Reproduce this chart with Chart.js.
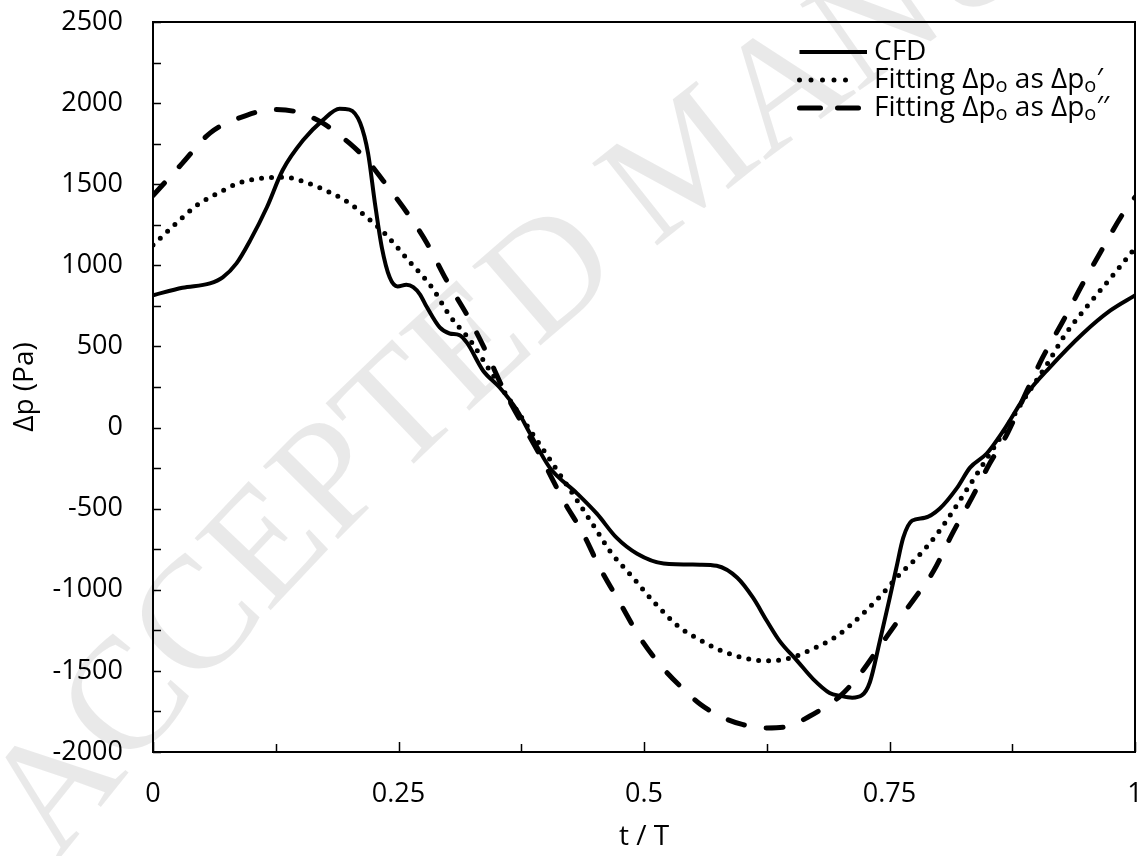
<!DOCTYPE html>
<html>
<head>
<meta charset="utf-8">
<script src="https://cdn.jsdelivr.net/npm/chart.js@4.4.1/dist/chart.umd.min.js"></script>
<style>
  html, body { margin: 0; background: #fff; }
  canvas { display: block; }
</style>
</head>
<body>
<canvas id="pressureChart" width="1146" height="856"></canvas>
<script>
// t/T and pressure difference (Pa)
const cfdT = [0, 0.03, 0.058, 0.071, 0.085, 0.099, 0.116, 0.132, 0.153, 0.173, 0.19, 0.2, 0.211, 0.219, 0.226, 0.233, 0.241, 0.249, 0.258, 0.265, 0.272, 0.279, 0.292, 0.302, 0.312, 0.32, 0.336, 0.353, 0.371, 0.384, 0.404, 0.432, 0.452, 0.472, 0.493, 0.52, 0.557, 0.574, 0.595, 0.611, 0.625, 0.638, 0.656, 0.672, 0.689, 0.7, 0.712, 0.722, 0.73, 0.74, 0.75, 0.757, 0.764, 0.773, 0.786, 0.801, 0.819, 0.832, 0.849, 0.866, 0.89, 0.913, 0.947, 0.975, 1];
const cfdP = [815, 862, 889, 926, 1012, 1154, 1358, 1586, 1772, 1895, 1965, 1960, 1877, 1691, 1383, 1111, 926, 870, 880, 866, 820, 741, 617, 580, 570, 520, 352, 247, 105, -37, -247, -407, -531, -679, -778, -838, -845, -852, -926, -1049, -1191, -1315, -1438, -1549, -1636, -1654, -1665, -1650, -1570, -1320, -1056, -864, -679, -574, -556, -500, -370, -247, -160, -19, 210, 370, 580, 722, 815];

const fit1T = [0, 0.027, 0.046, 0.066, 0.087, 0.111, 0.134, 0.158, 0.18, 0.2, 0.219, 0.236, 0.26, 0.284, 0.302, 0.323, 0.343, 0.37, 0.4, 0.432, 0.452, 0.465, 0.489, 0.509, 0.537, 0.557, 0.579, 0.601, 0.625, 0.649, 0.672, 0.692, 0.707, 0.738, 0.761, 0.778, 0.798, 0.814, 0.829, 0.845, 0.863, 0.887, 0.911, 0.927, 0.952, 0.975, 1];
const fit1P = [1125, 1278, 1376, 1444, 1506, 1537, 1543, 1506, 1450, 1383, 1290, 1197, 1031, 864, 691, 537, 352, 110, -160, -450, -636, -759, -926, -1068, -1235, -1309, -1376, -1420, -1438, -1420, -1364, -1302, -1235, -1056, -901, -802, -660, -520, -380, -230, -60, 175, 395, 556, 753, 920, 1105];

const fit2T = [0, 0.03, 0.058, 0.096, 0.122, 0.147, 0.173, 0.2, 0.218, 0.234, 0.262, 0.279, 0.299, 0.323, 0.34, 0.356, 0.397, 0.418, 0.438, 0.455, 0.476, 0.496, 0.519, 0.542, 0.557, 0.577, 0.6, 0.625, 0.645, 0.669, 0.689, 0.7, 0.72, 0.74, 0.76, 0.776, 0.795, 0.814, 0.834, 0.852, 0.87, 0.89, 0.906, 0.927, 0.947, 0.966, 0.988, 1];
const fit2P = [1430, 1630, 1815, 1926, 1960, 1945, 1876, 1753, 1648, 1525, 1296, 1136, 907, 660, 457, 247, -204, -450, -654, -864, -1086, -1296, -1481, -1623, -1704, -1778, -1830, -1852, -1845, -1778, -1704, -1654, -1520, -1350, -1180, -1049, -883, -654, -432, -222, -37, 228, 432, 660, 889, 1093, 1321, 1420];

const xMin = 0, xMax = 1, xStep = 0.125, xLabelStep = 0.25;
const yMin = -2000, yMax = 2500, yStep = 250, yLabelStep = 500;

const FONT = "'Open Sans', 'Noto Sans', sans-serif";
const watermark = 'ACCEPTED MANUSCRIPT';

function toPoints(ts, ps) {
    return ts.map((t, i) => ({ x: t, y: ps[i] }));
}

function isMultiple(v, step) {
    const r = v / step;
    return Math.abs(r - Math.round(r)) < 1e-6;
}

// legend text parts: [text, isSubscript]
const legendItems = [
    { parts: [['CFD', false]], lineEnd: 867, y: 52, dash: [] },
    { parts: [['Fitting Δp', false], ['o', true], [' as Δp', false], ['o', true], ['′', false]], lineEnd: 856, y: 80, dash: [0, 11.5] },
    { parts: [['Fitting Δp', false], ['o', true], [' as Δp', false], ['o', true], ['′′', false]], lineEnd: 860, y: 108, dash: [21, 17] }
];

// faint journal watermark laid along an arc, under the plot
const watermarkPlugin = {
    id: 'watermark',
    beforeDatasetsDraw(chart) {
        const { ctx } = chart;
        const cx = 3107, cy = 3233, R = 3905;
        ctx.save();
        ctx.fillStyle = 'rgba(0,0,0,0.085)';
        ctx.font = "160px 'Liberation Serif', 'DejaVu Serif', serif";
        ctx.textAlign = 'center';
        ctx.textBaseline = 'middle';
        let s = -ctx.measureText('A').width / 2;
        const th0 = Math.atan2(790 - cy, 60 - cx);
        for (const ch of watermark) {
            const w = ctx.measureText(ch).width;
            const th = th0 + (s + w / 2) / R;
            ctx.save();
            ctx.translate(cx + R * Math.cos(th), cy + R * Math.sin(th));
            ctx.rotate(th + Math.PI / 2);
            ctx.fillText(ch, 0, 0);
            ctx.restore();
            s += w;
        }
        ctx.restore();
    }
};

const framePlugin = {
    id: 'frame',
    afterDatasetsDraw(chart) {
        const { ctx, chartArea: a, scales } = chart;
        ctx.save();
        ctx.strokeStyle = '#000';
        ctx.lineWidth = 2;
        ctx.setLineDash([]);
        ctx.strokeRect(a.left, a.top, a.right - a.left, a.bottom - a.top);

        // inward tick marks
        ctx.lineWidth = 1.5;
        ctx.beginPath();
        scales.x.ticks.forEach(t => {
            const px = Math.round(scales.x.getPixelForValue(t.value)) + 0.5;
            const len = isMultiple(t.value, xLabelStep) ? 10 : 8;
            ctx.moveTo(px, a.bottom);
            ctx.lineTo(px, a.bottom - len);
        });
        scales.y.ticks.forEach(t => {
            const py = Math.round(scales.y.getPixelForValue(t.value)) + 0.5;
            ctx.moveTo(a.left, py);
            ctx.lineTo(a.left + 8, py);
        });
        ctx.stroke();
        ctx.restore();
    }
};

const legendPlugin = {
    id: 'sideLegend',
    afterDraw(chart) {
        const { ctx } = chart;
        ctx.save();
        legendItems.forEach((item, i) => {
            const ds = chart.data.datasets[i];
            ctx.strokeStyle = ds.borderColor;
            ctx.lineWidth = ds.borderWidth;
            ctx.lineCap = ds.borderCapStyle;
            ctx.setLineDash(item.dash);
            ctx.beginPath();
            ctx.moveTo(799.5, item.y);
            ctx.lineTo(item.lineEnd, item.y);
            ctx.stroke();

            ctx.fillStyle = '#000';
            ctx.textBaseline = 'middle';
            ctx.textAlign = 'left';
            let x = 874;
            item.parts.forEach(([txt, sub]) => {
                ctx.font = (sub ? '20px ' : '28px ') + FONT;
                ctx.fillText(txt, x, item.y + (sub ? 6 : 0));
                x += ctx.measureText(txt).width;
            });
        });
        ctx.restore();
    }
};

function noPad(s) {
    s.paddingTop = 0;
    s.paddingBottom = 0;
    s.paddingLeft = 0;
    s.paddingRight = 0;
}

new Chart(document.getElementById('pressureChart'), {
    type: 'line',
    data: {
        datasets: [{
            label: 'CFD',
            data: toPoints(cfdT, cfdP),
            borderColor: '#000',
            borderWidth: 4,
            borderCapStyle: 'butt',
            cubicInterpolationMode: 'monotone',
            pointRadius: 0,
            fill: false
        }, {
            label: 'Fitting Δpo as Δpo′',
            data: toPoints(fit1T, fit1P),
            borderColor: '#000',
            borderWidth: 5,
            borderDash: [0, 10],
            borderCapStyle: 'round',
            cubicInterpolationMode: 'monotone',
            pointRadius: 0,
            fill: false
        }, {
            label: 'Fitting Δpo as Δpo′′',
            data: toPoints(fit2T, fit2P),
            borderColor: '#000',
            borderWidth: 5,
            borderDash: [17, 22],
            borderCapStyle: 'round',
            cubicInterpolationMode: 'monotone',
            pointRadius: 0,
            fill: false
        }]
    },
    options: {
        responsive: false,
        animation: false,
        devicePixelRatio: 1,
        layout: { padding: { top: 22, right: 11, left: 0, bottom: 0 } },
        plugins: {
            legend: { display: false },
            tooltip: { enabled: false }
        },
        scales: {
            x: {
                type: 'linear',
                min: xMin,
                max: xMax,
                afterFit: s => { s.height = 104; noPad(s); },
                grid: { drawOnChartArea: false, drawTicks: false },
                border: { display: false },
                ticks: {
                    stepSize: xStep,
                    autoSkip: false,
                    maxRotation: 0,
                    padding: 26,
                    color: '#000',
                    font: { family: FONT, size: 27 },
                    callback: v => isMultiple(v, xLabelStep) ? String(v) : ''
                },
                title: {
                    display: true,
                    text: 't / T',
                    color: '#000',
                    font: { family: FONT, size: 28 },
                    padding: { top: 0, bottom: 2 }
                }
            },
            y: {
                min: yMin,
                max: yMax,
                afterFit: s => { s.width = 153; noPad(s); },
                grid: { drawOnChartArea: false, drawTicks: false },
                border: { display: false },
                ticks: {
                    stepSize: yStep,
                    autoSkip: false,
                    padding: 30,
                    color: '#000',
                    font: { family: FONT, size: 27 },
                    callback: v => isMultiple(v, yLabelStep) ? String(v) : ''
                },
                title: {
                    display: true,
                    text: 'Δp (Pa)',
                    color: '#000',
                    font: { family: FONT, size: 28 },
                    padding: { top: 8, bottom: 0 }
                }
            }
        }
    },
    plugins: [watermarkPlugin, framePlugin, legendPlugin]
});
</script>
</body>
</html>
